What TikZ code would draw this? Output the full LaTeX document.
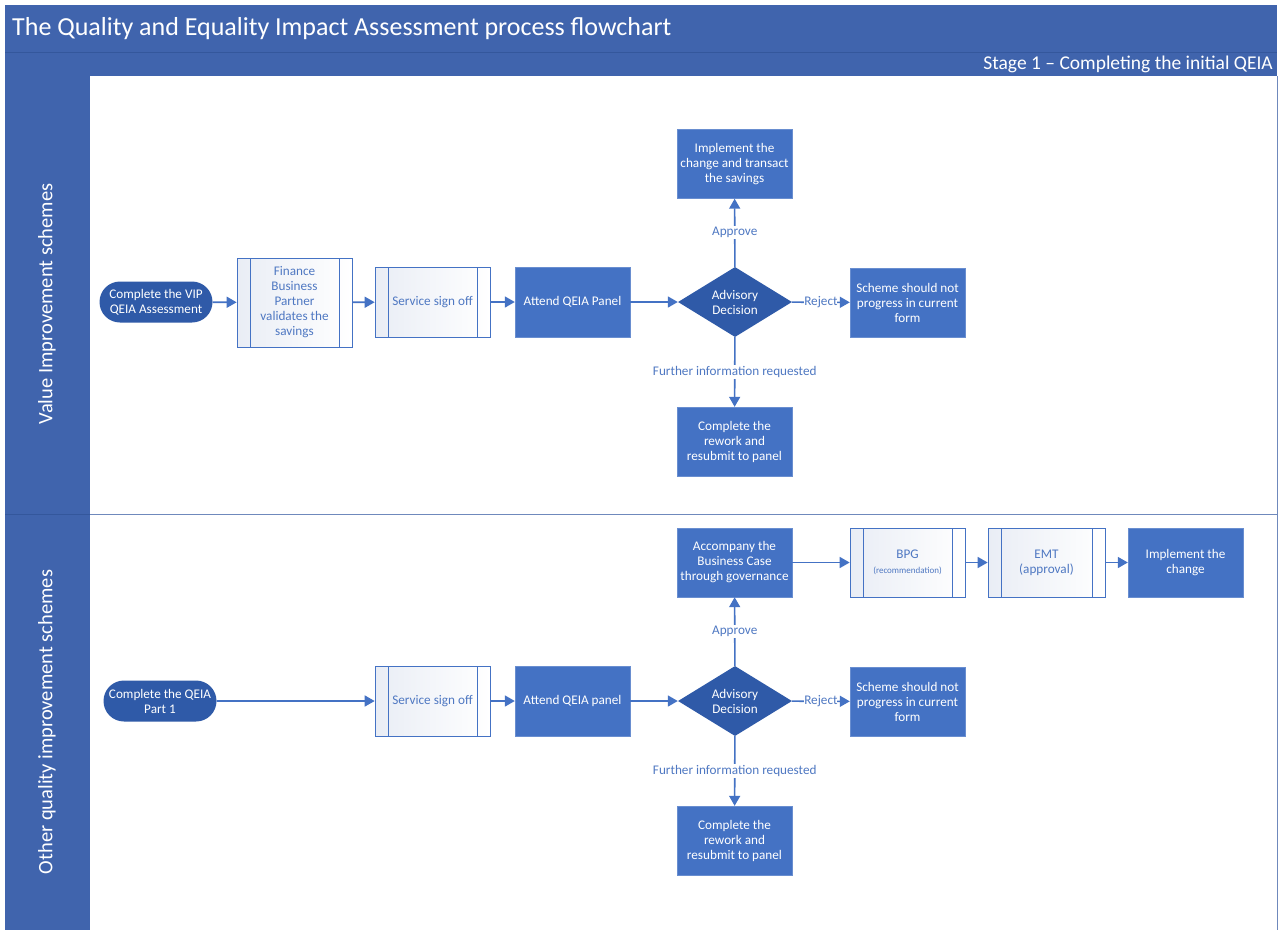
\documentclass[tikz,border=0pt]{standalone}
\usepackage{fontspec}
\setmainfont{Carlito}
\usetikzlibrary{shapes.geometric,shapes.misc,arrows.meta}
\definecolor{barblue}{HTML}{4064AD}
\definecolor{barline}{HTML}{34579C}
\definecolor{boxblue}{HTML}{4472C4}
\definecolor{darkblue}{HTML}{2F5AA8}
\definecolor{txtblue}{HTML}{4F78C2}
\definecolor{laneline}{HTML}{6F89BC}
\definecolor{subfill}{HTML}{E9EDF5}
\tikzset{
  nodefont/.style={font=\fontsize{13.2}{15}\selectfont},
  procbox/.style={nodefont,rectangle,fill=boxblue,draw=boxblue!80!white,text=white,align=center,
    minimum width=115pt,minimum height=69pt,inner sep=2pt},
  termbox/.style={nodefont,rounded rectangle,fill=darkblue,text=white,align=center,
    minimum width=117pt,minimum height=41pt,inner sep=2pt},
  decbox/.style={nodefont,diamond,fill=darkblue,text=white,align=center,aspect=1.63,
    minimum width=114pt,minimum height=70pt,inner sep=0pt},
  subbox/.style={nodefont,rectangle,draw=boxblue,line width=0.7pt,left color=subfill,right color=white,
    text=txtblue,align=center,minimum width=115pt,minimum height=70pt,inner sep=2pt,
    path picture={
      \draw[boxblue,line width=0.6pt] ([xshift=13pt]path picture bounding box.north west) -- ([xshift=13pt]path picture bounding box.south west);
      \draw[boxblue,line width=0.6pt] ([xshift=-13pt]path picture bounding box.north east) -- ([xshift=-13pt]path picture bounding box.south east);
    }},
  flow/.style={draw=boxblue,line width=1.6pt,-{Triangle[length=10pt,width=11pt]}},
  flowlbl/.style={nodefont,fill=white,text=txtblue,inner sep=1pt}
}
\begin{document}
\begin{tikzpicture}[x=1pt,y=-1pt]
\useasboundingbox (0,0) rectangle (1282,930);
\fill[white] (0,0) rectangle (1282,930);
% header bars
\fill[barblue] (5,5) rectangle (1277,76);
\draw[barline,line width=0.8pt] (5,52) -- (1277,52);
\node[anchor=west,text=white,font=\fontsize{26}{30}\selectfont,inner sep=2pt] (title) at (10,29) {The Quality and Equality Impact Assessment process flowchart};
\node[anchor=east,text=white,font=\fontsize{19.5}{22}\selectfont,inner sep=2pt] (stage) at (1275,64) {Stage 1 -- Completing the initial QEIA};
% lanes
\fill[barblue] (5,76) rectangle (90,930);
\draw[laneline,line width=1pt] (1277,76) -- (1277,930);
\draw[laneline,line width=1pt] (90,514) -- (1277,514);
\draw[barline,line width=1pt] (5,514) -- (90,514);
\node[rotate=90,text=white,font=\fontsize{20.5}{24}\selectfont] (lane1) at (47,304) {Value Improvement schemes};
\node[rotate=90,text=white,font=\fontsize{20.5}{24}\selectfont] (lane2) at (47,722) {Other quality improvement schemes};

% lane 1
\node[termbox] (t1) at (156,302) {Complete the VIP\\QEIA Assessment};
\node[subbox,minimum height=89pt] (fin) at (294.5,302.5) {Finance\\Business\\Partner\\validates the\\savings};
\node[subbox] (ss1) at (432.5,302) {Service sign off};
\node[procbox,minimum height=70pt] (qp1) at (572.5,302) {Attend QEIA Panel};
\node[decbox] (d1) at (735,302) {Advisory\\Decision};
\node[procbox] (imp1) at (734.5,164) {Implement the\\change and transact\\the savings};
\node[procbox] (rej1) at (907.5,302.5) {Scheme should not\\progress in current\\form};
\node[procbox] (rw1) at (734.5,441.5) {Complete the\\rework and\\resubmit to panel};

\draw[flow] (t1) -- (fin);
\draw[flow] (fin) -- (ss1);
\draw[flow] (ss1) -- (qp1);
\draw[flow] (qp1) -- (d1);
\draw[flow] (d1) -- node[flowlbl] {Approve} (imp1);
\draw[flow] (d1) -- node[flowlbl,inner sep=0pt] {Reject} (rej1);
\draw[flow] (d1) -- node[flowlbl] {Further information requested} (rw1);

% lane 2
\node[termbox] (t2) at (160,701) {Complete the QEIA\\Part 1};
\node[subbox] (ss2) at (432.5,701) {Service sign off};
\node[procbox,minimum height=70pt] (qp2) at (572.5,701) {Attend QEIA panel};
\node[decbox] (d2) at (735,701) {Advisory\\Decision};
\node[procbox] (acc) at (734.5,562.5) {Accompany the\\Business Case\\through governance};
\node[subbox,minimum height=69pt] (bpg) at (907.5,562.5) {BPG\\{\fontsize{9}{10}\selectfont(recommendation)}};
\node[subbox,minimum height=69pt,minimum width=117pt] (emt) at (1046.5,562.5) {EMT\\(approval)};
\node[procbox] (imp2) at (1185.5,562.5) {Implement the\\change};
\node[procbox] (rej2) at (907.5,701.5) {Scheme should not\\progress in current\\form};
\node[procbox] (rw2) at (734.5,840.5) {Complete the\\rework and\\resubmit to panel};

\draw[flow] (t2) -- (ss2);
\draw[flow] (ss2) -- (qp2);
\draw[flow] (qp2) -- (d2);
\draw[flow] (d2) -- node[flowlbl] {Approve} (acc);
\draw[flow] (d2) -- node[flowlbl,inner sep=0pt] {Reject} (rej2);
\draw[flow] (d2) -- node[flowlbl] {Further information requested} (rw2);
\draw[flow] (acc) -- (bpg);
\draw[flow] (bpg) -- (emt);
\draw[flow] (emt) -- (imp2);
\end{tikzpicture}
\end{document}
